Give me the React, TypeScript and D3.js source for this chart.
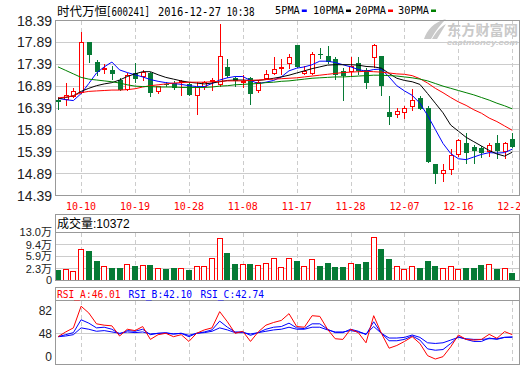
import React, { useRef, useEffect } from 'react';
import * as d3 from 'd3';

const dates = ['09-28','09-29','09-30','10-10','10-11','10-12','10-13','10-14','10-17','10-18',
  '10-19','10-20','10-21','10-24','10-25','10-26','10-27','10-28','10-31','11-01',
  '11-02','11-03','11-04','11-07','11-08','11-09','11-10','11-11','11-14','11-15',
  '11-16','11-17','11-18','11-21','11-22','11-23','11-24','11-25','11-28','11-29',
  '11-30','12-01','12-02','12-05','12-06','12-07','12-08','12-09','12-12','12-13',
  '12-14','12-15','12-16','12-19','12-20','12-21','12-22','12-23','12-26','12-27'];

const open = [16.57,16.58,16.64,16.73,17.89,17.44,17.26,17.25,17.03,16.80,
  17.19,17.11,17.20,16.76,16.94,16.96,16.98,16.93,16.66,16.87,
  16.98,16.91,17.33,17.08,16.98,17.07,16.77,17.05,17.17,17.31,
  17.39,17.82,17.17,17.17,17.63,17.57,17.50,17.24,17.22,17.42,
  17.25,17.54,17.57,16.30,16.22,16.27,16.42,16.63,16.40,15.12,
  14.89,14.98,15.31,15.58,15.49,15.47,15.39,15.59,15.38,15.69];
const high = [16.65,16.97,16.84,18.12,17.89,17.49,17.40,17.34,17.08,17.20,
  17.41,17.25,17.22,16.90,16.99,17.01,17.03,16.98,16.98,17.00,
  17.08,18.30,17.50,17.10,17.14,17.10,17.02,17.26,17.55,17.52,
  17.62,17.82,17.35,17.68,17.77,17.80,17.55,17.30,17.56,17.55,
  17.30,17.86,17.57,16.66,16.39,16.43,16.82,16.67,16.43,15.12,
  15.12,15.45,15.68,15.82,15.54,15.52,15.60,15.77,15.62,15.82];
const low = [16.34,16.44,16.62,16.70,17.43,17.12,17.17,17.02,16.79,16.78,
  16.96,17.00,16.65,16.72,16.87,16.80,16.67,16.66,16.22,16.80,
  16.79,16.88,17.07,16.88,16.85,16.46,16.74,17.03,17.14,17.14,
  17.28,17.30,17.14,17.14,17.50,17.40,17.02,16.54,17.10,17.15,
  16.82,17.30,16.67,16.00,16.17,16.14,16.32,16.34,15.14,14.65,
  14.71,14.85,15.28,15.10,15.11,15.25,15.28,15.23,15.22,15.48];
const close = [16.52,16.68,16.78,17.89,17.60,17.22,17.30,17.16,16.81,17.15,
  17.05,17.22,16.73,16.89,16.93,16.85,17.01,16.68,16.88,16.99,
  17.02,17.58,17.13,17.00,17.00,16.70,16.99,17.17,17.28,17.32,
  17.55,17.32,17.24,17.63,17.62,17.44,17.14,17.12,17.34,17.23,
  16.97,17.84,16.89,16.19,16.32,16.38,16.57,16.37,15.16,14.89,
  14.98,15.31,15.67,15.37,15.40,15.36,15.54,15.40,15.59,15.50];

// volume in 万
const volume = [1.98,2.07,1.59,8.19,7.60,4.64,3.16,2.57,2.57,3.66,
  3.16,3.36,3.46,2.47,2.27,2.57,2.47,1.98,3.16,3.16,
  5.43,11.35,6.90,3.75,3.66,3.75,3.46,3.95,5.43,2.77,
  5.43,4.64,3.16,5.13,3.16,3.95,2.87,2.87,3.95,3.75,
  4.24,11.64,8.19,5.23,3.06,2.27,3.06,2.47,4.64,3.16,
  2.47,3.06,2.27,2.47,2.47,3.46,3.66,2.27,2.47,1.04];

const ma5 = [16.61,16.58,16.56,16.72,16.95,17.19,17.33,17.44,17.26,17.20,
  17.15,17.10,17.04,17.00,16.97,16.95,16.93,16.90,16.88,16.88,
  16.95,17.03,17.08,17.11,17.11,17.02,16.95,16.98,17.02,17.10,
  17.24,17.30,17.33,17.38,17.46,17.46,17.43,17.38,17.33,17.27,
  17.23,17.27,17.28,17.10,16.90,16.78,16.68,16.50,16.22,15.90,
  15.58,15.35,15.23,15.21,15.27,15.33,15.37,15.36,15.37,15.45];
const ma10 = [16.60,16.63,16.67,16.77,16.84,16.90,16.94,16.97,17.03,17.11,
  17.17,17.22,17.22,17.15,17.09,17.05,17.01,16.98,16.96,16.94,
  16.96,16.99,17.02,17.03,17.03,17.02,17.02,17.04,17.07,17.10,
  17.14,17.19,17.24,17.29,17.33,17.37,17.38,17.38,17.38,17.37,
  17.34,17.33,17.30,17.18,17.07,17.02,16.99,16.93,16.72,16.50,
  16.28,16.00,15.86,15.72,15.62,15.52,15.42,15.34,15.29,15.38];
const ma20 = [16.62,16.64,16.67,16.74,16.77,16.78,16.79,16.80,16.80,16.81,
  16.83,16.87,16.90,16.92,16.94,16.96,16.97,16.98,16.98,16.98,
  16.99,17.00,17.01,17.01,17.01,17.02,17.03,17.04,17.05,17.06,
  17.07,17.08,17.10,17.12,17.14,17.16,17.18,17.20,17.21,17.22,
  17.23,17.22,17.21,17.19,17.17,17.16,17.13,17.06,16.96,16.84,
  16.74,16.63,16.53,16.45,16.35,16.27,16.16,16.08,15.98,15.88];
const ma30 = [17.33,17.25,17.17,17.09,17.05,17.03,17.01,16.99,16.96,16.92,
  16.89,16.88,16.88,16.87,16.87,16.87,16.86,16.86,16.86,16.86,
  16.87,16.89,16.90,16.92,16.93,16.94,16.95,16.97,16.98,17.00,
  17.01,17.03,17.05,17.07,17.08,17.09,17.10,17.10,17.11,17.12,
  17.13,17.14,17.14,17.13,17.12,17.10,17.08,17.05,17.01,16.95,
  16.89,16.84,16.79,16.74,16.69,16.63,16.57,16.50,16.44,16.37];

const rsiA = [43,50,56,88,78,62,60,59,44,54,
  52,58,39,46,48,43,46,36,48,53,
  56,80,65,48,51,36,50,60,64,67,
  77,58,57,74,73,54,40,39,54,49,
  34,74,48,26,30,36,43,33,15,10,
  13.5,28,45.5,39,38,39,46.5,40.6,50.5,46.01];
const rsiB = [43,46,49,68,63,56,57,54,47,52,
  51,54,46,48,49,47,48,43,48,50,
  53,66,57,50,50,45,49,54,57,58,
  63,56,55,62,62,54,49,49,54,51,
  46,65,48,37,37,39,44,38,25,23,
  24,33,43,39,36,36,41,39,42,42.10];
const rsiC = [43,44,46,56,54,51,52,50,48,50,
  49,50,47,48,48,47,48,45,48,49,
  51,56,53,49,49,47,49,51,53,54,
  57,54,54,57,57,53,50,50,52,50,
  47,58,48,41,41,42,45.5,42,34,33,
  34,38,42,40,39,39,40,40,42,42.74];

const priceTicks = [18.39, 17.89, 17.39, 16.89, 16.39, 15.89, 15.39, 14.89, 14.39];
const volTicks = [13.0, 9.4, 5.9, 2.3];
const rsiTicks = [82, 48];
const labelDates = ['10-10', '10-19', '10-28', '11-08', '11-17', '11-28', '12-07', '12-16', '12-27'];

const maSeries = [
  { name: '5PMA', values: ma5, color: '#0000ff' },
  { name: '10PMA', values: ma10, color: '#000000' },
  { name: '20PMA', values: ma20, color: '#ff0000' },
  { name: '30PMA', values: ma30, color: '#008000' },
];

const RED = '#ff0000';
const GREEN = '#067a35';
const FRAME = '#999999';
const GRID = '#cccccc';
const MONO = 'DejaVu Sans Mono, Liberation Mono, monospace';
const SANS = 'Liberation Sans, Arial, Noto Sans CJK SC, sans-serif';
const NARROW = 'Liberation Sans Narrow, Arial Narrow, Liberation Sans, sans-serif';

const App = () => {
  const svgRef = useRef(null);

  useEffect(() => {
    const svg = d3.select(svgRef.current);
    svg.selectAll('*').remove();

    const left = 55.5, right = 519.5;
    const crisp = (v) => Math.round(v - 0.5) + 0.5;

    const x = d3.scalePoint().domain(dates).range([58, 512.3]);
    const cx = (i) => Math.round(x(dates[i]));

    const y = d3.scaleLinear().domain([14.39, 18.39]).range([195.5, 20.5]);
    const vy = d3.scaleLinear().domain([-1.25, 13.0]).range([280.5, 232.5]);
    const ry = d3.scaleLinear().domain([0, 100]).range([365.8, 298.1]);

    svg.append('rect').attr('width', 520).attr('height', 365).attr('fill', '#fff');

    // watermark
    const wm = svg.append('g').attr('fill', '#c9c9c9');
    wm.append('path').attr('d', 'M424,39 C427,30 434,22 446,19 C441,24 436,30 431,39 Z');
    wm.append('path').attr('d', 'M432,39 C436,32 440,27 446,24 C443,29 440,34 437,39 Z');
    wm.append('text').attr('x', 447).attr('y', 35).attr('font-family', 'Noto Sans CJK SC')
      .attr('font-weight', 'bold').attr('font-size', 14).attr('textLength', 71)
      .attr('lengthAdjust', 'spacingAndGlyphs').text('东方财富网');
    wm.append('text').attr('x', 447).attr('y', 45).attr('font-family', 'Liberation Sans')
      .attr('font-weight', 'bold').attr('font-style', 'italic').attr('font-size', 7.5)
      .attr('textLength', 71).attr('lengthAdjust', 'spacingAndGlyphs').text('eastmoney.com');

    // title
    const title = svg.append('g').attr('fill', '#000');
    title.append('text').attr('x', 57).attr('y', 16).attr('font-family', 'Noto Sans CJK SC')
      .attr('font-size', 12.5).text('时代万恒');
    [['[600241]', 106, 44], ['2016-12-27', 158, 63], ['10:38', 226.5, 28]].forEach(([t, tx, tl]) => {
      title.append('text').attr('x', tx).attr('y', 16).attr('font-family', MONO)
        .attr('font-size', 11.5).attr('textLength', tl).attr('lengthAdjust', 'spacingAndGlyphs').text(t);
    });

    // legend
    const legendX = [275, 313, 355, 398];
    maSeries.forEach((s, k) => {
      const tw = s.name.length * 6.2;
      svg.append('text').attr('x', legendX[k]).attr('y', 13.5).attr('font-family', MONO)
        .attr('font-size', 10.5).attr('textLength', tw).attr('lengthAdjust', 'spacingAndGlyphs')
        .text(s.name);
      svg.append('rect').attr('x', legendX[k] + tw + 2).attr('y', 9.5).attr('width', 5).attr('height', 2.5)
        .attr('fill', s.color);
    });

    const vlines = (g, top, bottom) => {
      g.selectAll('line.v').data(labelDates).join('line')
        .attr('x1', d => Math.round(x(d)) + 0.5).attr('x2', d => Math.round(x(d)) + 0.5)
        .attr('y1', top).attr('y2', bottom)
        .attr('stroke', GRID).attr('stroke-dasharray', '4,3').attr('shape-rendering', 'crispEdges');
    };

    // ---------- main panel ----------
    const main = svg.append('g');
    main.selectAll('line.h').data(priceTicks.slice(1, -1)).join('line')
      .attr('x1', left).attr('x2', right)
      .attr('y1', d => crisp(y(d))).attr('y2', d => crisp(y(d)))
      .attr('stroke', GRID).attr('shape-rendering', 'crispEdges');
    vlines(main, 21, 195);

    main.selectAll('text.p').data(priceTicks).join('text')
      .attr('x', 52).attr('y', d => y(d)).attr('dy', '0.36em').attr('text-anchor', 'end')
      .attr('font-family', NARROW).attr('font-size', 14).attr('fill', '#222').text(d => d.toFixed(2));

    main.selectAll('text.d').data(labelDates).join('text')
      .attr('x', d => x(d)).attr('y', 210).attr('text-anchor', 'middle')
      .attr('font-family', MONO).attr('font-size', 10).attr('fill', RED).text(d => d);

    // candles
    const candles = main.append('g').attr('shape-rendering', 'crispEdges');
    dates.forEach((d, i) => {
      const up = close[i] >= open[i];
      const c = cx(i);
      const col = up ? RED : GREEN;
      candles.append('line').attr('x1', c + 0.5).attr('x2', c + 0.5)
        .attr('y1', y(high[i])).attr('y2', y(low[i])).attr('stroke', col);
      const top = Math.round(y(Math.max(open[i], close[i])));
      const bot = Math.max(Math.round(y(Math.min(open[i], close[i]))), top + 1);
      if (up) {
        candles.append('rect').attr('x', c - 1.5).attr('y', top + 0.5)
          .attr('width', 4).attr('height', Math.max(bot - top - 1, 0.5))
          .attr('fill', '#fff').attr('stroke', RED);
      } else {
        candles.append('rect').attr('x', c - 2).attr('y', top)
          .attr('width', 5).attr('height', Math.max(bot - top, 1)).attr('fill', GREEN);
      }
    });

    // moving averages
    maSeries.forEach(s => {
      const line = d3.line().x((v, i) => x(dates[i])).y(v => y(v));
      main.append('path').datum(s.values).attr('d', line)
        .attr('fill', 'none').attr('stroke', s.color).attr('stroke-width', 1);
    });

    main.append('rect').attr('x', left).attr('y', 20.5).attr('width', right - left).attr('height', 175)
      .attr('fill', 'none').attr('stroke', FRAME).attr('shape-rendering', 'crispEdges');

    // ---------- volume panel ----------
    const vol = svg.append('g');
    vol.selectAll('line.h').data(volTicks.slice(1)).join('line')
      .attr('x1', left).attr('x2', right)
      .attr('y1', d => crisp(vy(d))).attr('y2', d => crisp(vy(d)))
      .attr('stroke', GRID).attr('shape-rendering', 'crispEdges');
    vlines(vol, 233, 280);

    const bars = vol.append('g').attr('shape-rendering', 'crispEdges');
    dates.forEach((d, i) => {
      const up = close[i] >= open[i];
      const c = cx(i);
      const top = Math.round(vy(volume[i]));
      if (up) {
        bars.append('rect').attr('x', c - 2.5).attr('y', top + 0.5)
          .attr('width', 5).attr('height', 280 - top - 0.5)
          .attr('fill', '#fff').attr('stroke', RED);
      } else {
        bars.append('rect').attr('x', c - 3).attr('y', top)
          .attr('width', 6).attr('height', 281 - top).attr('fill', GREEN);
      }
    });

    vol.selectAll('text.v').data(volTicks).join('text')
      .attr('x', 52).attr('y', d => vy(d)).attr('dy', '0.36em').attr('text-anchor', 'end')
      .attr('font-family', SANS).attr('font-size', 11).attr('fill', '#222').text(d => d.toFixed(1) + '万');
    vol.append('text').attr('x', 52).attr('y', 280).attr('dy', '0.36em').attr('text-anchor', 'end')
      .attr('font-family', SANS).attr('font-size', 11).attr('fill', '#222').text('0');

    vol.append('rect').attr('x', left).attr('y', 214.5).attr('width', right - left).attr('height', 66)
      .attr('fill', 'none').attr('stroke', FRAME).attr('shape-rendering', 'crispEdges');
    vol.append('line').attr('x1', left).attr('x2', right).attr('y1', 232.5).attr('y2', 232.5)
      .attr('stroke', FRAME).attr('shape-rendering', 'crispEdges');
    vol.append('text').attr('x', 57).attr('y', 227.5).attr('font-family', SANS)
      .attr('font-size', 12).attr('fill', '#000').text('成交量:10372');

    // ---------- RSI panel ----------
    const rsi = svg.append('g');
    rsi.append('line').attr('x1', left).attr('x2', right)
      .attr('y1', crisp(ry(48))).attr('y2', crisp(ry(48)))
      .attr('stroke', GRID).attr('shape-rendering', 'crispEdges');
    vlines(rsi, 301, 364);

    const rsiSeries = [
      { values: rsiC, color: '#0000ff' },
      { values: rsiB, color: '#0000ff' },
      { values: rsiA, color: '#ff0000' },
    ];
    rsiSeries.forEach(s => {
      const line = d3.line().x((v, i) => x(dates[i])).y(v => ry(v));
      rsi.append('path').datum(s.values).attr('d', line)
        .attr('fill', 'none').attr('stroke', s.color).attr('stroke-width', 1);
    });

    rsi.selectAll('text.r').data(rsiTicks).join('text')
      .attr('x', 52).attr('y', d => ry(d)).attr('dy', '0.36em').attr('text-anchor', 'end')
      .attr('font-family', SANS).attr('font-size', 12).attr('fill', '#222').text(d => d);
    rsi.append('text').attr('x', 52).attr('y', ry(48) + (ry(48) - ry(82))).attr('dy', '0.36em')
      .attr('text-anchor', 'end').attr('font-family', SANS).attr('font-size', 12).attr('fill', '#222').text('0');

    rsi.append('rect').attr('x', left).attr('y', 287.5).attr('width', right - left).attr('height', 77)
      .attr('fill', 'none').attr('stroke', FRAME).attr('shape-rendering', 'crispEdges');
    rsi.append('line').attr('x1', left).attr('x2', right).attr('y1', 300.5).attr('y2', 300.5)
      .attr('stroke', FRAME).attr('shape-rendering', 'crispEdges');

    const rsiHead = [
      ['RSI_A:' + rsiA[rsiA.length - 1].toFixed(2), 57, RED],
      ['RSI_B:' + rsiB[rsiB.length - 1].toFixed(2), 128.5, '#0000ff'],
      ['RSI_C:' + rsiC[rsiC.length - 1].toFixed(2), 200.5, '#0000ff'],
    ];
    rsiHead.forEach(([t, tx, col]) => {
      rsi.append('text').attr('x', tx).attr('y', 297.5).attr('font-family', MONO)
        .attr('font-size', 9.6).attr('fill', col).text(t);
    });
  }, []);

  return (
    <svg ref={svgRef} width={520} height={365}
      style={{ position: 'absolute', left: 0, top: 0, display: 'block' }} />
  );
};

export default App;
